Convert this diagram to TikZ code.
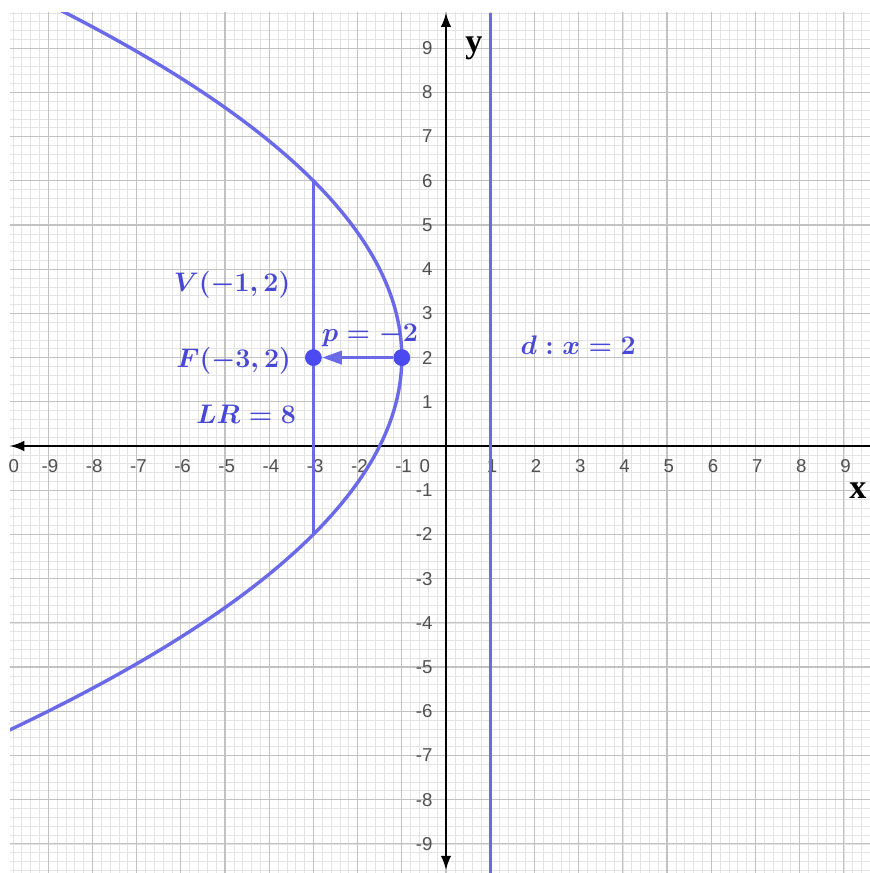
\documentclass[tikz,border=0pt]{standalone}
\usepackage{fontspec}
\newfontfamily\tickfont{Liberation Sans}
\newfontfamily\axisfont{Liberation Serif}
\usetikzlibrary{arrows.meta}
\definecolor{geoline}{HTML}{6A6AE8}
\definecolor{geotext}{HTML}{4848D4}
\definecolor{geodot}{HTML}{4A4AF0}
\definecolor{majorgrid}{HTML}{C2C2C2}
\definecolor{minorgrid}{HTML}{E4E4E4}
\definecolor{ticktext}{HTML}{505050}
\tikzset{
  minorline/.style={draw=minorgrid,line width=0.4pt},
  majorline/.style={draw=majorgrid,line width=0.8pt},
  axisline/.style={draw=black,line width=1.2pt},
  curve/.style={draw=geoline,line width=2.2pt},
  dot/.style={circle,fill=geodot,inner sep=0pt,minimum size=3.8mm},
  ticklabel/.style={font=\tickfont\fontsize{12}{14}\selectfont,text=ticktext,
                    inner sep=0pt},
  mathlabel/.style={font=\fontsize{16}{19}\selectfont\boldmath,text=geotext,
                    inner sep=0pt},
  axislabel/.style={font=\axisfont\fontsize{22}{26}\selectfont\bfseries,
                    inner sep=0pt},
  vecarr/.style={-{Triangle[length=4.5mm,width=3mm]},draw=geoline,
                 line width=2pt}
}

\begin{document}
\begin{tikzpicture}[x=1cm,y=1cm]
    \useasboundingbox[fill=white] (-10.09,-9.66) rectangle (9.59,10.09);

    % grid
    \begin{scope}
      \clip (-9.86,-9.66) rectangle (9.59,9.80);
      \draw[minorline,step=0.2] (-10,-10) grid (10,10);
      \draw[majorline,step=1] (-10,-10) grid (10,10);
    \end{scope}

    % axes
    \coordinate (xleft) at (-9.86,0);
    \coordinate (xright) at (9.59,0);
    \coordinate (ytop) at (0,9.80);
    \coordinate (ybottom) at (0,-9.59);
    \draw[axisline,-{Latex[length=3.2mm,width=2.4mm]}] (xright) -- (xleft);
    \draw[axisline,{Latex[length=3.2mm,width=2.4mm]}-{Latex[length=3.2mm,width=2.4mm]}]
      (ybottom) -- (ytop);

    \foreach \i in {-9,...,-1,1,2,...,9}
      \node[ticklabel] (xt\i) at (\i+0.04,-0.45) {\i};
    \foreach \i in {-9,...,-1,1,2,...,9}
      \node[ticklabel,anchor=east] (yt\i) at (-0.3,\i) {\i};
    \node[ticklabel] (xtcut) at (-9.78,-0.45) {0};
    \node[ticklabel] (origin) at (-0.48,-0.45) {0};

    \node[axislabel] (xlab) at (9.32,-1.0) {x};
    \node[axislabel] (ylab) at (0.63,9.0) {y};

    % parabola, latus rectum, directrix
    \begin{scope}
      \clip (-9.86,-9.66) rectangle (9.59,9.80);
      \draw[curve] plot[domain=-7:10.5,samples=120,variable=\t]
        ({-1-(\t-2)^2/8},\t);
    \end{scope}
    \coordinate (lrtop) at (-3,6);
    \coordinate (lrbottom) at (-3,-2);
    \draw[curve] (lrtop) -- (lrbottom);
    \coordinate (dtop) at (1,9.80);
    \coordinate (dbottom) at (1,-9.66);
    \draw[curve,line width=2pt] (dtop) -- (dbottom);

    % vertex, focus
    \node[dot] (V) at (-1,2) {};
    \node[dot] (F) at (-3,2) {};
    \draw[vecarr] (V) -- (F);

    \node[mathlabel] (vlab) at (-4.84,3.64) {$V(-1,2)$};
    \node[mathlabel] (flab) at (-4.8,1.93) {$F(-3,2)$};
    \node[mathlabel] (lrlab) at (-4.52,0.72) {$LR=8$};
    \node[mathlabel] (plab) at (-1.72,2.49) {$p=-2$};
    \node[mathlabel] (dlab) at (2.99,2.28) {$d:x=2$};
  \end{tikzpicture}
\end{document}
